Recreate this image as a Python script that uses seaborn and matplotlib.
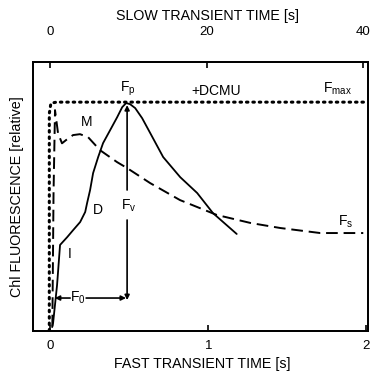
import numpy as np
import pandas as pd
import matplotlib
matplotlib.use("Agg")
import matplotlib.pyplot as plt
import seaborn as sns

# Быстрая индукция (нижняя ось, с)
fast_t = [0.013, 0.019, 0.044, 0.063, 0.108, 0.146, 0.19, 0.222, 0.234, 0.253,
          0.272, 0.304, 0.335, 0.38, 0.424, 0.456, 0.481, 0.506, 0.538, 0.582,
          0.633, 0.715, 0.823, 0.93, 1.03, 1.18]
fast_f = [0.017, 0.035, 0.20, 0.376, 0.41, 0.441, 0.476, 0.52, 0.559, 0.616,
          0.69, 0.76, 0.821, 0.878, 0.934, 0.978, 0.996, 0.991, 0.974, 0.93,
          0.865, 0.76, 0.672, 0.603, 0.515, 0.424]

# Медленная индукция (верхняя ось, с)
slow_t = [0.3, 0.45, 0.64, 1.02, 1.53, 2.04, 2.94, 3.83, 4.86, 6.39, 8.56,
          9.84, 12.8, 16.6, 21.3, 25.6, 29.4, 34.5, 40.0]
slow_f = [0.02, 0.6, 0.965, 0.865, 0.82, 0.834, 0.856, 0.86, 0.847, 0.79, 0.738,
          0.712, 0.646, 0.572, 0.507, 0.472, 0.45, 0.428, 0.428]

# +DCMU
dcmu_t = [-0.005, -0.005, 0.005, 0.04, 2.0]
dcmu_f = [0.0, 0.95, 0.995, 1.0, 1.0]

fast_ticks = [0, 1, 2]
slow_ticks = [0, 20, 40]

sns.set_style("ticks")
plt.rcParams['font.family'] = ['Liberation Sans', 'DejaVu Sans']
plt.rcParams['mathtext.default'] = 'regular'
plt.rcParams['text.color'] = 'black'
plt.rcParams['axes.labelcolor'] = 'black'
plt.rcParams['xtick.color'] = 'black'

fig = plt.figure(figsize=(3.73, 3.74), dpi=100)
ax = fig.add_axes([0.0885, 0.115, 0.898, 0.719])
ax2 = ax.twiny()

sns.lineplot(x=fast_t, y=fast_f, ax=ax, sort=False, estimator=None, color='black', lw=1.3)
sns.lineplot(x=dcmu_t, y=dcmu_f, ax=ax, sort=False, estimator=None, color='black',
             lw=2.2, linestyle=(0, (0.5, 1.6)), dash_capstyle='round')
sns.lineplot(x=slow_t, y=slow_f, ax=ax2, sort=False, estimator=None, color='black',
             lw=1.4, linestyle=(0, (6, 3)))

ax.set_xlim(-0.108, 2.01)
ax.set_ylim(0, 1.175)
ax2.set_xlim(-2.17, 40.6)
ax2.set_ylim(0, 1.175)

ax.set_xticks(fast_ticks)
ax.set_xticklabels([str(v) for v in fast_ticks], fontsize=9.5)
ax2.set_xticks(slow_ticks)
ax2.set_xticklabels([str(v) for v in slow_ticks], fontsize=9.5)
ax.set_yticks([])
ax2.set_yticks([])
ax.tick_params(axis='x', direction='in', length=4, width=1.2, pad=6.5)
ax2.tick_params(axis='x', direction='in', length=4, width=1.2, pad=17)
for a in (ax, ax2):
    for s in a.spines.values():
        s.set_linewidth(1.3)
        s.set_color('black')

ax.set_xlabel("FAST TRANSIENT TIME [s]", fontsize=10.3, va='center')
ax.xaxis.set_label_coords(0.504, -0.1227)
ax2.set_xlabel("SLOW TRANSIENT TIME [s]", fontsize=10.3, va='center')
ax2.xaxis.set_label_coords(0.522, 1.171)
ax.set_ylabel("Chl FLUORESCENCE [relative]", fontsize=10.3, va='center')
ax.yaxis.set_label_coords(-0.048, 0.5)

# Стрелки Fv и F0
tp = 0.487
arr = dict(arrowstyle='-|>', color='black', lw=1.2, mutation_scale=7,
           shrinkA=0, shrinkB=0)
ax.annotate('', xy=(tp, 0.987), xytext=(tp, 0.616), arrowprops=arr)
ax.annotate('', xy=(tp, 0.135), xytext=(tp, 0.485), arrowprops=arr)
ax.annotate('', xy=(0.03, 0.144), xytext=(0.127, 0.144), arrowprops=arr)
ax.annotate('', xy=(0.48, 0.144), xytext=(0.228, 0.144), arrowprops=arr)

txt = dict(fontsize=10, ha='center', va='center', color='black')
ax.text(0.50, 0.546, 'F$_{v}$', **txt)
ax.text(0.177, 0.144, 'F$_{0}$', **txt)
ax.text(0.49, 1.06, 'F$_{p}$', **txt)
ax.text(1.05, 1.048, '+DCMU', **txt)
ax.text(1.82, 1.057, 'F$_{max}$', **txt)
ax.text(0.234, 0.913, 'M', **txt)
ax.text(0.30, 0.528, 'D', **txt)
ax.text(0.127, 0.336, 'I', **txt)
ax.text(1.87, 0.476, 'F$_{s}$', **txt)

fig.savefig("out.png", dpi=100)
